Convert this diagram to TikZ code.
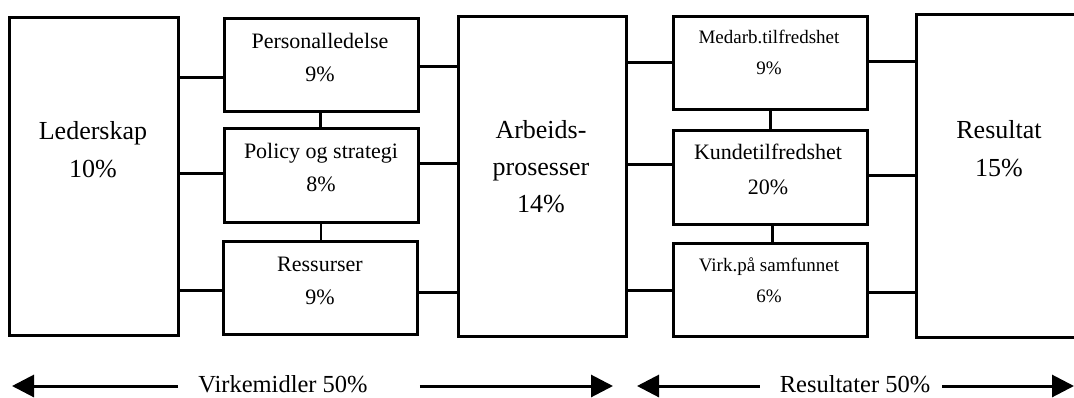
\documentclass[tikz,border=0pt]{standalone}
\usepackage{fontspec}
\setmainfont{Liberation Serif}
\usetikzlibrary{arrows.meta}
\begin{document}
\begin{tikzpicture}[x=1pt,y=-1pt,
  box/.style={draw, line width=3pt, anchor=north west, inner sep=0pt, outer sep=0pt},
  big/.style={align=center, inner sep=0pt, font=\fontsize{26}{38}\selectfont},
  mid/.style={align=center, inner sep=0pt, font=\fontsize{22}{33}\selectfont},
  small/.style={align=center, inner sep=0pt, font=\fontsize{19}{31}\selectfont},
  link/.style={line width=3pt},
  thinlink/.style={line width=2pt},
  arr/.style={line width=3pt, -{Triangle[length=22pt,width=22pt]}},
  caption/.style={inner sep=0pt, font=\fontsize{24.5}{30}\selectfont}]
\useasboundingbox (0,0) rectangle (1074,397);
\clip (0,0) rectangle (1074,397);

% enablers
\node[box, minimum width=169pt, minimum height=318pt] (led) at (9,17) {};
\node[box, minimum width=194pt, minimum height=93pt] (pl) at (224,18) {};
\node[box, minimum width=194pt, minimum height=94pt] (ps) at (224,128) {};
\node[box, minimum width=194pt, minimum height=93pt] (res) at (223,241) {};
% processes
\node[box, minimum width=168pt, minimum height=320pt] (arb) at (458,16) {};
% results
\node[box, minimum width=194pt, minimum height=93pt] (med) at (673,16) {};
\node[box, minimum width=194pt, minimum height=94pt] (kun) at (673,130) {};
\node[box, minimum width=194pt, minimum height=93pt] (virk) at (673,243) {};
\node[box, minimum width=180pt, minimum height=323pt] (resu) at (916,14) {};

% box texts
\node[big] (led-t) at (93,150) {Lederskap\\10\%};
\node[mid] (pl-t) at (320,58) {Personalledelse\\9\%};
\node[mid] (ps-t) at (321,168) {Policy og strategi\\8\%};
\node[mid] (res-t) at (320,281) {Ressurser\\9\%};
\node[big, font=\fontsize{26}{37}\selectfont] (arb-t) at (541,167) {Arbeids-\\prosesser\\14\%};
\node[small] (med-t) at (769,52) {Medarb.tilfredshet\\9\%};
\node[mid, font=\fontsize{22}{35}\selectfont] (kun-t) at (768,169) {Kundetilfredshet\\20\%};
\node[small] (virk-t) at (769,280) {Virk.på samfunnet\\6\%};
\node[big] (resu-t) at (999,149) {Resultat\\15\%};

% connectors
\draw[link] (led.east |- 0,77) -- (pl.west |- 0,77);
\draw[link] (led.east |- 0,173) -- (ps.west |- 0,173);
\draw[link] (led.east |- 0,290) -- (res.west |- 0,290);
\draw[link] (pl.south -| 320,0) -- (ps.north -| 320,0);
\draw[thinlink] (ps.south -| 321,0) -- (res.north -| 321,0);
\draw[link] (pl.east |- 0,66) -- (arb.west |- 0,66);
\draw[link] (ps.east |- 0,163) -- (arb.west |- 0,163);
\draw[link] (res.east |- 0,292) -- (arb.west |- 0,292);
\draw[link] (arb.east |- 0,62) -- (med.west |- 0,62);
\draw[link] (arb.east |- 0,164) -- (kun.west |- 0,164);
\draw[link] (arb.east |- 0,290) -- (virk.west |- 0,290);
\draw[link] (med.south -| 770,0) -- (kun.north -| 770,0);
\draw[link] (kun.south -| 772,0) -- (virk.north -| 772,0);
\draw[link] (med.east |- 0,61) -- (resu.west |- 0,61);
\draw[link] (kun.east |- 0,175) -- (resu.west |- 0,175);
\draw[link] (virk.east |- 0,292) -- (resu.west |- 0,292);

% bottom scale
\node[caption] (vm) at (283,384) {Virkemidler 50\%};
\node[caption] (rs) at (855,384) {Resultater 50\%};
\coordinate (vmL) at (12,386);
\coordinate (vmR) at (613,386);
\coordinate (rsL) at (637,386);
\coordinate (rsR) at (1074,386);
\draw[arr] ([xshift=-20pt]vm.west |- vmL) -- (vmL);
\draw[arr] ([xshift=52pt]vm.east |- vmR) -- (vmR);
\draw[arr] ([xshift=-20pt]rs.west |- rsL) -- (rsL);
\draw[arr] ([xshift=12pt]rs.east |- rsR) -- (rsR);
\end{tikzpicture}
\end{document}
